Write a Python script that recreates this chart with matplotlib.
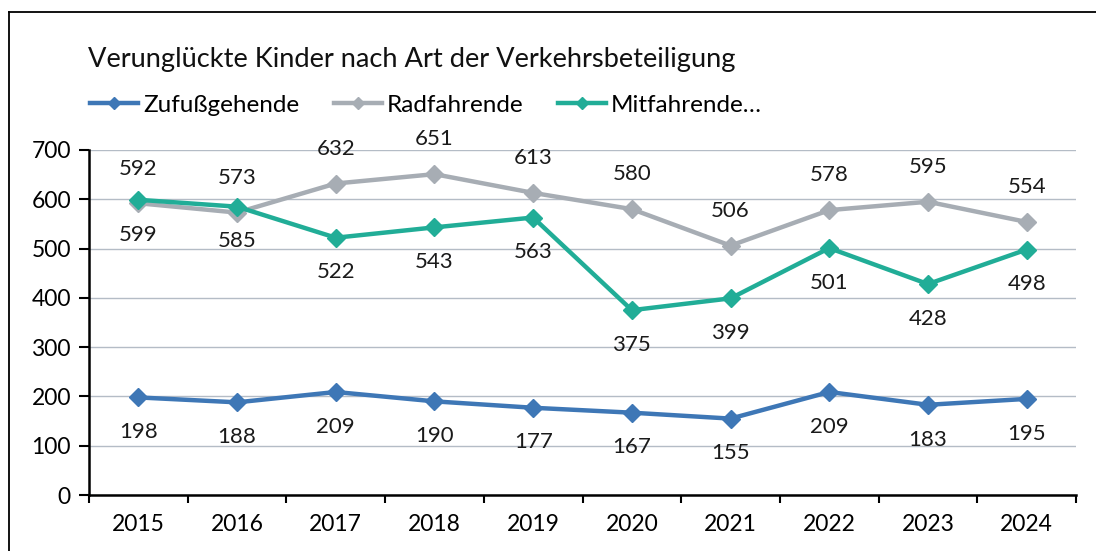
import matplotlib.pyplot as plt
from matplotlib.lines import Line2D

years = ["2015", "2016", "2017", "2018", "2019", "2020", "2021", "2022", "2023", "2024"]
zufuss = [198, 188, 209, 190, 177, 167, 155, 209, 183, 195]
rad = [592, 573, 632, 651, 613, 580, 506, 578, 595, 554]
mit = [599, 585, 522, 543, 563, 375, 399, 501, 428, 498]

blue = "#3e77b6"
gray = "#a7adb4"
teal = "#21ad97"

plt.rcParams['font.family'] = ['Lato', 'DejaVu Sans']

fig = plt.figure(figsize=(10.96, 5.51), dpi=100)
ax = fig.add_axes([89 / 1096, 1 - 495 / 551, (1076 - 89) / 1096, (495 - 150) / 551])

x = list(range(len(years)))
series = [
    ("Zufußgehende", zufuss, blue, -1),
    ("Radfahrende", rad, gray, 1),
    ("Mitfahrende…", mit, teal, -1),
]
for name, vals, col, side in series:
    ax.plot(x, vals, color=col, lw=3.2, marker="D", ms=9.5, zorder=3)
    for xi, v in zip(x, vals):
        ax.annotate(str(v), (xi, v), xytext=(0, 25 * side), textcoords="offset points",
                    ha="center", va="center", fontsize=16, color="#1a1a1a")

ax.set_xlim(-0.5, 9.5)
ax.set_ylim(0, 700)
ax.set_yticks(range(0, 701, 100))
ax.yaxis.grid(True, color="#b4bcc6", lw=1)
ax.set_axisbelow(True)
ax.set_xticks([i - 0.5 for i in range(11)])
ax.set_xticklabels([])
ax.set_xticks(x, minor=True)
ax.set_xticklabels(years, minor=True)
ax.tick_params(axis="x", which="major", length=6, width=1.5, direction="out")
ax.tick_params(axis="x", which="minor", length=0, pad=14, labelsize=16.5)
ax.tick_params(axis="y", length=7, width=1.5, labelsize=16.5, pad=6)
for s in ["top", "right"]:
    ax.spines[s].set_visible(False)
for s in ["left", "bottom"]:
    ax.spines[s].set_linewidth(1.8)

fig.text(88 / 1096, 1 - 60 / 551, "Verunglückte Kinder nach Art der Verkehrsbeteiligung",
         fontsize=19.6, va="center", ha="left", color="#111111")

handles = [Line2D([], [], color=c, lw=3.2, marker="D", ms=6) for _, _, c, _ in series]
fig.legend(handles, [s[0] for s in series], loc="center left",
           bbox_to_anchor=(68 / 1096, 1 - 105 / 551), ncol=3, frameon=False,
           fontsize=17.5, handlelength=2.0, handletextpad=0.2, columnspacing=1.4)

# outer frame (only top and left visible in the crop)
fig.add_artist(Line2D([9 / 1096, 1.01], [1 - 12 / 551, 1 - 12 / 551], color="black", lw=1.3,
                      transform=fig.transFigure))
fig.add_artist(Line2D([9 / 1096, 9 / 1096], [-0.01, 1 - 12 / 551], color="black", lw=1.3,
                      transform=fig.transFigure))

fig.savefig("out.png", dpi=100)
